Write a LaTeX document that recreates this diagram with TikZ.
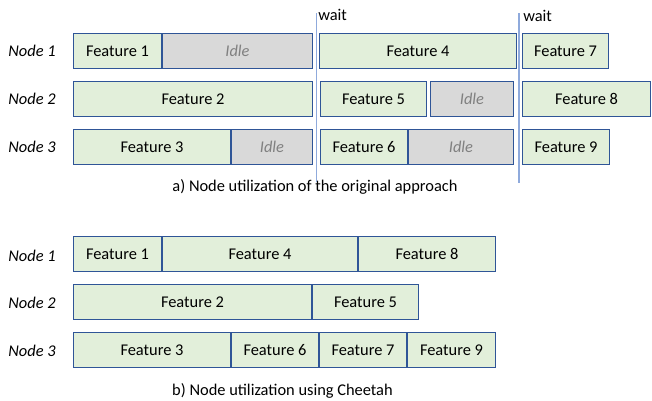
\documentclass[tikz,border=0pt]{standalone}
\usepackage{fontspec}
\setmainfont{Carlito}
\definecolor{featgreen}{HTML}{E2EFDA}
\definecolor{idlegray}{HTML}{D9D9D9}
\definecolor{boxblue}{HTML}{2F5597}
\definecolor{waitblue}{HTML}{8FAADC}
\tikzset{
  txt/.style={font=\fontsize{12.3}{14}\selectfont},
  slot/.style={txt, draw=boxblue, line width=1.1pt, fill=featgreen, inner sep=0pt, minimum height=26pt},
  idle/.style={slot, fill=idlegray, text=black!50, font=\fontsize{12.3}{14}\selectfont\itshape},
  rowlabel/.style={font=\fontsize{12.3}{14}\selectfont\itshape},
  waitline/.style={draw=waitblue, line width=0.8pt},
}
% style, name, x from, x to, y, text
\newcommand{\slotnode}[6][slot]{%
  \node[#1, minimum width={(#4-#3)*0.75pt-1.1pt}] (#2) at ({(#3+#4)/2},#5) {#6};}

\begin{document}
\begin{tikzpicture}[x=0.75pt, y=-0.75pt]
  \useasboundingbox (0,0) rectangle (652,400);

  % a) original approach
  \node[rowlabel] (na1) at (32,51) {Node 1};
  \node[rowlabel] (na2) at (32,99) {Node 2};
  \node[rowlabel] (na3) at (32,147) {Node 3};
  \slotnode{a1}{73}{162}{51}{Feature 1}
  \slotnode[idle]{ai1}{162}{313}{51}{Idle}
  \slotnode{a4}{319}{517}{51}{Feature 4}
  \slotnode{a7}{522}{609}{51}{Feature 7}
  \slotnode{a2}{73}{313}{99}{Feature 2}
  \slotnode{a5}{320}{427}{99}{Feature 5}
  \slotnode[idle]{ai2}{430}{514}{99}{Idle}
  \slotnode{a8}{522}{651}{99}{Feature 8}
  \slotnode{a3}{73}{231}{147}{Feature 3}
  \slotnode[idle]{ai3}{231}{313}{147}{Idle}
  \slotnode{a6}{320}{408}{147}{Feature 6}
  \slotnode[idle]{ai4}{408}{514}{147}{Idle}
  \slotnode{a9}{522}{610}{147}{Feature 9}

  \coordinate (w1top) at (316.5,13); \coordinate (w1bot) at (316.5,182);
  \coordinate (w2top) at (519,13); \coordinate (w2bot) at (519,183);
  \draw[waitline] (w1top) -- (w1bot);
  \draw[waitline] (w2top) -- (w2bot);
  \node[txt, anchor=west, inner sep=0pt] (wait1) at (318,15) {wait};
  \node[txt, anchor=west, inner sep=0pt] (wait2) at (523,16) {wait};
  \node[txt] (capa) at (315,187) {a) Node utilization of the original approach};

  % b) Cheetah
  \node[rowlabel] (nb1) at (32,256) {Node 1};
  \node[rowlabel] (nb2) at (32,303) {Node 2};
  \node[rowlabel] (nb3) at (32,351) {Node 3};
  \slotnode{b1}{73}{162}{254}{Feature 1}
  \slotnode{b4}{162}{358}{254}{Feature 4}
  \slotnode{b8}{358}{496}{254}{Feature 8}
  \slotnode{b2}{73}{312}{302}{Feature 2}
  \slotnode{b5}{312}{419}{302}{Feature 5}
  \slotnode{b3}{73}{231}{350}{Feature 3}
  \slotnode{b6}{231}{319}{350}{Feature 6}
  \slotnode{b7}{319}{407}{350}{Feature 7}
  \slotnode{b9}{407}{496}{350}{Feature 9}
  \node[txt] (capb) at (282.5,391) {b) Node utilization using Cheetah};
\end{tikzpicture}
\end{document}
